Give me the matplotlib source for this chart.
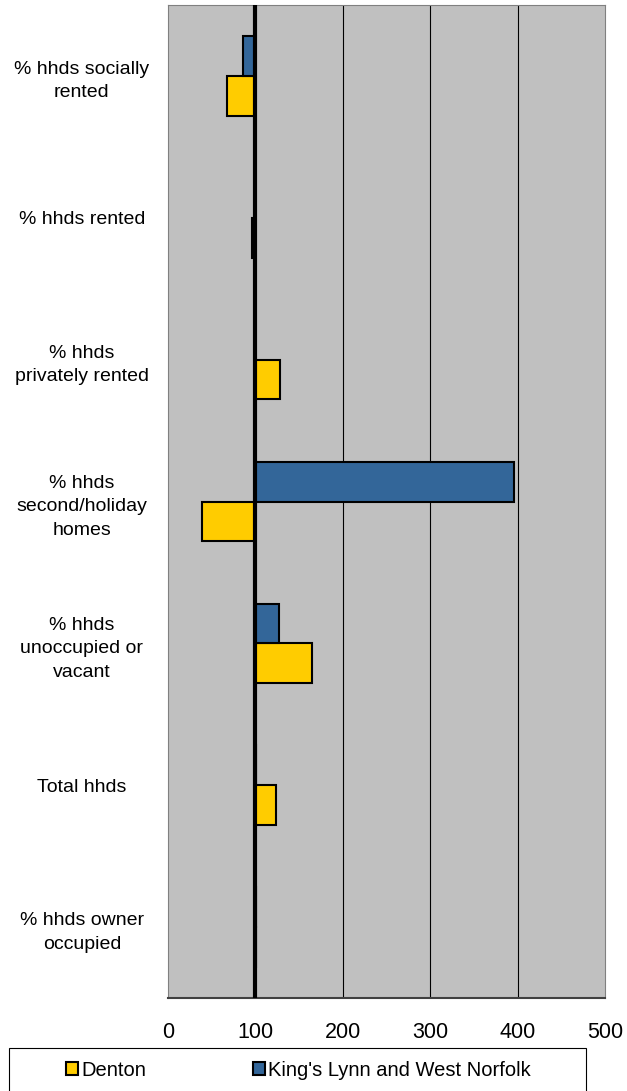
import numpy as np
import matplotlib.pyplot as plt
from matplotlib.patches import Rectangle

categories = ['% hhds owner\noccupied', 'Total hhds', '% hhds\nunoccupied or\nvacant',
              '% hhds\nsecond/holiday\nhomes', '% hhds\nprivately rented',
              '% hhds rented', '% hhds socially\nrented']
denton = np.array([101, 124, 165, 39, 128, 96, 67])
kings_lynn = np.array([101, 101, 127, 396, 99, 99, 86])
xticks = [0, 100, 200, 300, 400, 500]
base = 100

fig = plt.figure(figsize=(6.27, 10.91), dpi=100)
ax = fig.add_axes([168/627, 1-998/1091, 437/627, 993/1091])
ax.set_facecolor('#C0C0C0')

y = np.arange(len(categories))
h = 0.28
ax.barh(y - h/2, denton - base, left=base, height=h, color='#FFCC00',
        edgecolor='black', linewidth=1.5, label='Denton', zorder=3)
ax.barh(y + h/2, kings_lynn - base, left=base, height=h, color='#336699',
        edgecolor='black', linewidth=1.5, label="King's Lynn and West Norfolk", zorder=3)

for gx in [200, 300, 400]:
    ax.axvline(gx, color='black', linewidth=0.8, zorder=1)
ax.axvline(base, color='black', linewidth=3, zorder=4)

ax.set_xlim(0, 500)
ax.set_ylim(-0.5, len(categories) - 0.5)
ax.set_xticks(xticks)
ax.set_yticks(y)
ax.set_yticklabels(categories, ha='center', fontsize=14, family='Liberation Sans',
                   linespacing=1.5)
ax.tick_params(axis='y', length=0, pad=62)
ax.tick_params(axis='x', length=0, pad=17, labelsize=15.5)
for lbl in ax.get_xticklabels():
    lbl.set_family('Liberation Sans')
for s in ['left', 'right', 'top']:
    ax.spines[s].set_color('#808080')
ax.spines['bottom'].set_color('#404040')
ax.spines['bottom'].set_linewidth(1.5)

fig.patches.append(Rectangle((9/627, -0.01), 577/627, 43/1091 + 0.01,
                             transform=fig.transFigure, facecolor='white',
                             edgecolor='black', linewidth=0.8))
fig.legend(loc='center left', bbox_to_anchor=(66/627, 1-1070/1091), ncol=2,
           frameon=False, borderpad=0, borderaxespad=0,
           handlelength=0.6, handleheight=0.6, handletextpad=0.15,
           columnspacing=5.3, prop={'family': 'Liberation Sans', 'size': 14.5})

fig.savefig('out.png', dpi=100)
